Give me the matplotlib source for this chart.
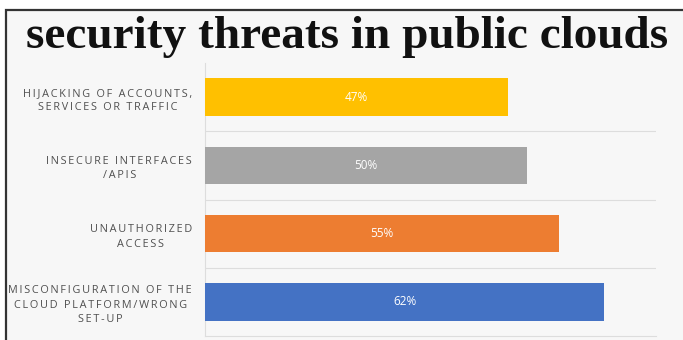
import matplotlib
matplotlib.use('Agg')
from matplotlib import pyplot as plt
from matplotlib.patches import Rectangle

categories = ['HIJACKING OF ACCOUNTS,\nSERVICES OR TRAFFIC',
              'INSECURE INTERFACES\n/APIS',
              'UNAUTHORIZED\nACCESS',
              'MISCONFIGURATION OF THE\nCLOUD PLATFORM/WRONG\nSET-UP']
values = [47, 50, 55, 62]
colors = ['#FFC000', '#A5A5A5', '#ED7D31', '#4472C4']


def spaced(s):
    # letter-spaced look of the original labels
    return '\n'.join('\u2009'.join(line) for line in s.split('\n'))


W, H = 683, 340
fig = plt.figure(figsize=(W/100, H/100), dpi=100)
fig.patch.set_facecolor('white')

# dark frame with light inner background
fig.patches.append(Rectangle((6/W, -0.05), 1.0, 1 - 10/H + 0.05,
                             transform=fig.transFigure, facecolor='#f7f7f7',
                             edgecolor='#333333', linewidth=1.6, zorder=-10))

fig.text(347/W, 1 - 37/H, 'security threats in public clouds',
         family='Liberation Serif', weight='bold', fontsize=34,
         ha='center', va='center', color='#111111')

ax = fig.add_axes([205/W, 4/H, 451/W, 273/H])
ax.set_facecolor('none')
ypos = list(range(len(values)))
bars = ax.barh(ypos, values, height=0.55, color=colors, zorder=3)
for y, v in zip(ypos, values):
    ax.text(v/2, y, f'{v}%', ha='center', va='center', color='white',
            fontsize=8.5, family='Open Sans', zorder=4)

ax.set_xlim(0, 70)
ax.set_ylim(3.5, -0.5)
ax.set_xticks([])
ax.set_yticks(ypos)
ax.set_yticklabels([spaced(c) for c in categories], fontsize=7.8,
                   color='#505050', family=['Open Sans', 'DejaVu Sans'],
                   multialignment='center', linespacing=1.45)
ax.tick_params(axis='y', length=0, pad=9.4)
for y in [0.5, 1.5, 2.5]:
    ax.axhline(y, color='#dddddd', linewidth=0.8, zorder=1)
for s in ['top', 'right']:
    ax.spines[s].set_visible(False)
ax.spines['left'].set_color('#dddddd')
ax.spines['bottom'].set_color('#dddddd')
ax.spines['left'].set_linewidth(0.8)
ax.spines['bottom'].set_linewidth(0.8)

fig.savefig('out.png', dpi=100, facecolor=fig.get_facecolor())
